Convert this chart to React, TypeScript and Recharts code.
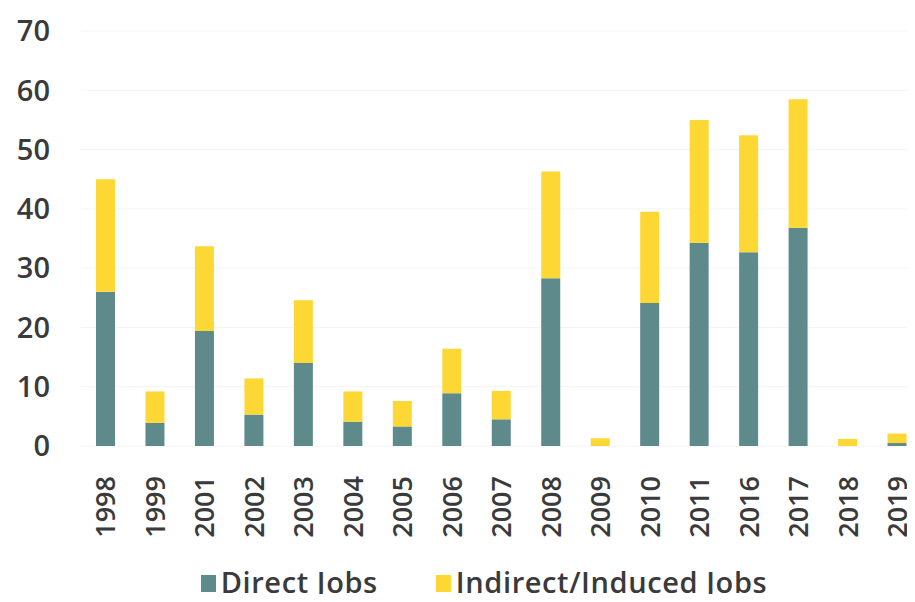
import { BarChart, Bar, XAxis, YAxis, CartesianGrid, Legend } from "recharts";

const years = ["1998", "1999", "2001", "2002", "2003", "2004", "2005", "2006", "2007", "2008", "2009", "2010", "2011", "2016", "2017", "2018", "2019"];
const directJobs = [26, 3.9, 19.4, 5.3, 14, 4.1, 3.3, 8.9, 4.5, 28.3, 0, 24.1, 34.3, 32.7, 36.8, 0, 0.5];
const indirectJobs = [19, 5.3, 14.3, 6.1, 10.6, 5.1, 4.3, 7.5, 4.8, 18, 1.3, 15.4, 20.7, 19.7, 21.7, 1.2, 1.6];
const yTicks = [0, 10, 20, 30, 40, 50, 60, 70];

const data = years.map((year, i) => ({
  year,
  direct: directJobs[i],
  indirect: indirectJobs[i],
}));

const TEAL   = "#5E8A8C";
const YELLOW = "#FDD835";
const TEXT   = "#3A3A3A";
const FONT   = "'Open Sans', sans-serif";

function YearTick({ x, y, payload }: any) {
  return (
    <text
      x={x}
      y={y + 22}
      transform={`rotate(-90, ${x}, ${y + 22})`}
      textAnchor="end"
      dy="0.36em"
      fill={TEXT}
      fontSize={27}
      fontWeight={600}
      fontFamily={FONT}
    >
      {payload.value}
    </text>
  );
}

function LegendContent({ payload }: any) {
  return (
    <div
      style={{
        display: "flex",
        justifyContent: "center",
        alignItems: "center",
        height: 40,
        paddingLeft: 46,
        fontFamily: FONT,
        fontSize: 29,
        fontWeight: 600,
        letterSpacing: 0.6,
        color: TEXT,
      }}
    >
      {(payload || []).map((entry: any, i: number) => (
        <div key={entry.value} style={{ display: "flex", alignItems: "center", marginLeft: i ? 58 : 0 }}>
          <span style={{ width: 15, height: 17, background: entry.color, marginRight: 5, marginTop: 2 }} />
          <span style={{ lineHeight: "40px" }}>{entry.value}</span>
        </div>
      ))}
    </div>
  );
}

export default function App() {
  return (
    <div style={{ margin: -8, width: 915, height: 602, overflow: "hidden", background: "#fff" }}>
      <BarChart
        width={922}
        height={602}
        data={data}
        margin={{ top: 31, right: 0, left: 0, bottom: 0 }}
        barSize={19}
      >
        <CartesianGrid stroke="#F4F4F4" vertical={false} />
        <XAxis
          dataKey="year"
          interval={0}
          tickLine={false}
          axisLine={false}
          height={116}
          tick={<YearTick />}
        />
        <YAxis
          domain={[0, 70]}
          ticks={yTicks}
          width={81}
          tickLine={false}
          axisLine={false}
          tickMargin={25}
          tick={{ fontSize: 29, fontWeight: 600, fill: TEXT, fontFamily: FONT }}
        />
        <Legend
          verticalAlign="bottom"
          wrapperStyle={{ height: 40 }}
          content={<LegendContent />}
        />
        <Bar dataKey="direct" name="Direct Jobs" stackId="a" fill={TEAL} isAnimationActive={false} />
        <Bar dataKey="indirect" name="Indirect/Induced Jobs" stackId="a" fill={YELLOW} isAnimationActive={false} />
      </BarChart>
    </div>
  );
}
